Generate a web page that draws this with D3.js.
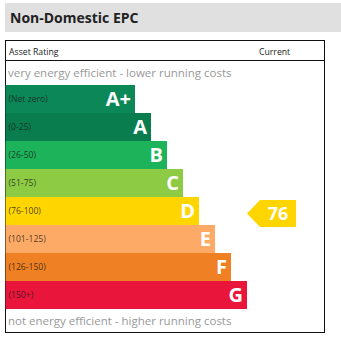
<!DOCTYPE html>
<html>
<head>
<meta charset="utf-8">
<script src="https://cdn.jsdelivr.net/npm/d3@7/dist/d3.min.js"></script>
<style>
  html, body { margin: 0; padding: 0; background: #fff; }
  svg { display: block; font-family: "Open Sans", sans-serif; }
</style>
</head>
<body>
<svg id="chart" width="341" height="340"></svg>
<script>
// EPC bands, top (most efficient) to bottom
const bands = ["A+", "A", "B", "C", "D", "E", "F", "G"];
const ranges = ["(Net zero)", "(0-25)", "(26-50)", "(51-75)", "(76-100)", "(101-125)", "(126-150)", "(150+)"];
const bandColors = ["#0c8757", "#0a7d4f", "#1db35b", "#8dcb45", "#ffd500", "#fcaa65", "#ef8023", "#e9153b"];
// Relative band length (1 = shortest)
const bandLength = [1, 2, 3, 4, 5, 6, 7, 8];
const currentScore = 76;
const currentBand = "D";

const svg = d3.select("#chart");

// Title band
svg.append("rect").attr("x", 5).attr("y", 3).attr("width", 336).attr("height", 29).attr("fill", "#e0e0e0");
svg.append("text").attr("x", 10).attr("y", 22.7).attr("font-size", 14).attr("font-weight", 700)
  .attr("fill", "#222").text("Non-Domestic EPC");

// Frame
const box = { x: 5.5, y: 40.5, w: 319, h: 292 };
svg.append("rect").attr("x", box.x).attr("y", box.y).attr("width", box.w).attr("height", box.h)
  .attr("fill", "none").attr("stroke", "#111").attr("stroke-width", 1);
svg.append("line").attr("x1", box.x).attr("x2", box.x + box.w).attr("y1", 60.5).attr("y2", 60.5)
  .attr("stroke", "#111");
svg.append("text").attr("x", 9).attr("y", 55).attr("font-size", 8.7).attr("fill", "#222").text("Asset Rating");
svg.append("text").attr("x", 259).attr("y", 55).attr("font-size", 8.7).attr("fill", "#222").text("Current");

svg.append("text").attr("x", 8).attr("y", 77).attr("font-size", 11.5).attr("fill", "#999")
  .text("very energy efficient - lower running costs");
svg.append("text").attr("x", 8).attr("y", 325).attr("font-size", 11.5).attr("fill", "#999")
  .text("not energy efficient - higher running costs");

// Scales
const y = d3.scaleBand().domain(bands).range([85, 309]).paddingInner(0);
const w = d3.scaleLinear().domain([1, 8]).range([129.5, 241.5]);
const x0 = 5.5;

const g = svg.append("g");
const rows = g.selectAll("g.band").data(bands).join("g").attr("class", "band");

rows.append("rect")
  .attr("x", x0)
  .attr("y", d => y(d))
  .attr("width", (d, i) => w(bandLength[i]))
  .attr("height", y.bandwidth())
  .attr("fill", (d, i) => bandColors[i]);

rows.append("text")
  .attr("x", 8.5)
  .attr("y", d => y(d) + y.bandwidth() / 2 + 3)
  .attr("font-size", 8.6)
  .attr("fill", "#1a1a1a")
  .attr("fill-opacity", 0.8)
  .text((d, i) => ranges[i]);

rows.append("text")
  .attr("x", (d, i) => x0 + w(bandLength[i]) - 4)
  .attr("y", d => y(d) + y.bandwidth() / 2 + 7)
  .attr("text-anchor", "end")
  .attr("font-size", 20)
  .attr("font-weight", 700)
  .attr("fill", "#fff")
  .text(d => d);

// Current rating pointer
const ci = bands.indexOf(currentBand);
const py0 = y(currentBand) + 3, py1 = y(currentBand) + y.bandwidth() + 2;
const pm = (py0 + py1) / 2;
const tip = 247, base = 260, right = 296;
svg.append("path")
  .attr("d", `M${tip},${pm} L${base},${py0} L${right},${py0} L${right},${py1} L${base},${py1} Z`)
  .attr("fill", bandColors[ci]);
svg.append("text")
  .attr("x", 278).attr("y", pm + 6.5)
  .attr("text-anchor", "middle")
  .attr("font-size", 18).attr("font-weight", 700).attr("fill", "#fff")
  .text(currentScore);
</script>
</body>
</html>
